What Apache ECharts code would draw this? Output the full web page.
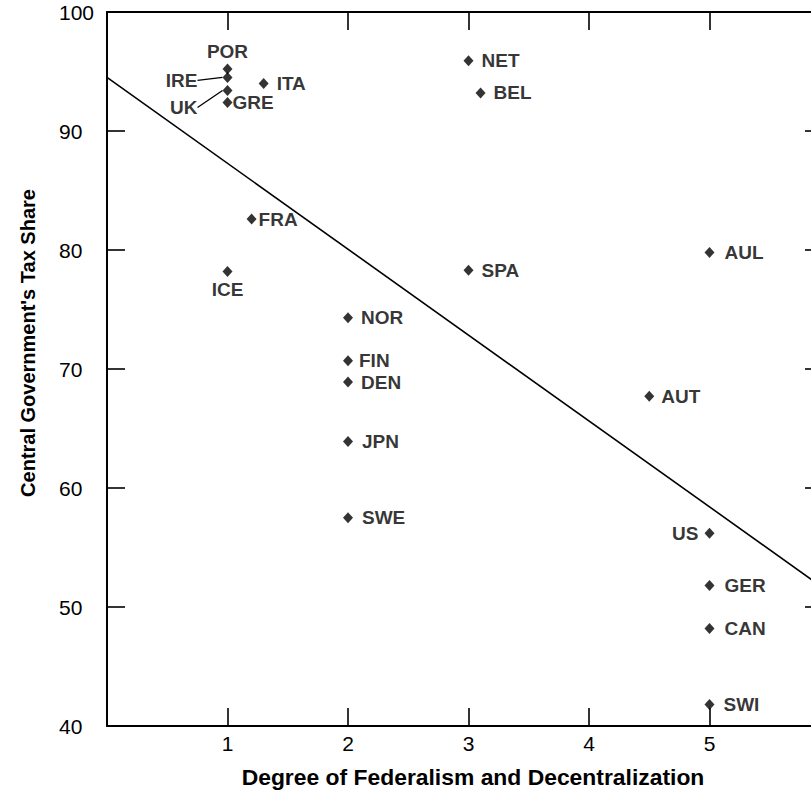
<!DOCTYPE html>
<html><head><meta charset="utf-8">
<script src="https://cdn.jsdelivr.net/npm/echarts@6/dist/echarts.min.js"></script>
<style>html,body{margin:0;padding:0;background:#fff}#c{width:811px;height:791px}</style>
</head><body><div id="c"></div>
<script>
// ---- data ----
const countries  = ['POR','IRE','UK','GRE','ITA','NET','BEL','FRA','ICE','NOR','FIN','DEN','JPN','SWE','SPA','AUL','AUT','US','GER','CAN','SWI'];
const federalism = [1, 1, 1, 1, 1.3, 3, 3.1, 1.2, 1, 2, 2, 2, 2, 2, 3, 5, 4.5, 5, 5, 5, 5];
const taxShare   = [95.2, 94.5, 93.4, 92.4, 94.0, 95.9, 93.2, 82.6, 78.2, 74.3, 70.7, 68.9, 63.9, 57.5, 78.3, 79.8, 67.7, 56.2, 51.8, 48.2, 41.8];
const fitX = [0, 6];
const fitY = [94.5, 51.2];
const xTickLabels = [1, 2, 3, 4, 5];
const yTickLabels = [40, 50, 60, 70, 80, 90, 100];
const xTitle = 'Degree of Federalism and Decentralization';
const yTitle = "Central Government's Tax Share";

// ---- label placement (style only) ----
const labelPlace = {
  POR: {position: 'top', distance: 3},
  IRE: {position: 'left', distance: 5, dx: -20, dy: 3, leader: true},
  UK:  {position: 'left', distance: 5, dx: -20, dy: 17, leader: true},
  GRE: {position: 'right', distance: 0, offset: [0, 16]},
  ITA: {position: 'right', distance: 8, offset: [0, 1]},
  NET: {position: 'right', distance: 8},
  BEL: {position: 'right', distance: 8},
  FRA: {position: 'right', distance: 2, offset: [0, 14]},
  ICE: {position: 'bottom', distance: 3},
  NOR: {position: 'right', distance: 8},
  FIN: {position: 'right', distance: 6, offset: [0, -3]},
  DEN: {position: 'right', distance: 8, offset: [0, 6]},
  JPN: {position: 'right', distance: 9, offset: [0, 2]},
  SWE: {position: 'right', distance: 9, offset: [0, 2]},
  SPA: {position: 'right', distance: 8},
  AUL: {position: 'right', distance: 10},
  AUT: {position: 'right', distance: 7, offset: [0, 1]},
  US:  {position: 'left', distance: 6},
  GER: {position: 'right', distance: 10},
  CAN: {position: 'right', distance: 10},
  SWI: {position: 'right', distance: 9}
};

const FONT = '"Liberation Sans", Arial, Helvetica, sans-serif';

const scatterData = countries.map((name, i) => {
  const p = labelPlace[name] || {position: 'right', distance: 8};
  const item = {
    name: name,
    value: [federalism[i], taxShare[i]],
    label: {position: p.position, distance: p.distance, offset: p.offset || [0, 0]}
  };
  if (p.leader) item.labelLine = {show: true, lineStyle: {color: '#000', width: 1.3}};
  return item;
});

const chart = echarts.init(document.getElementById('c'), null, {renderer: 'svg'});

const axisLineStyle = {show: true, onZero: false, lineStyle: {color: '#000', width: 2}};
const tickStyle = {show: true, inside: true, length: 18, lineStyle: {color: '#000', width: 1.6}};
const rightTickStyle = {show: true, inside: true, length: 25, lineStyle: {color: '#000', width: 1.6}};

chart.setOption({
  backgroundColor: '#fff',
  animation: false,
  grid: {left: 107, right: -19, top: 12, bottom: 65, containLabel: false, outerBoundsMode: 'none'},
  xAxis: [
    {
      type: 'value', min: 0, max: 6, interval: 1, position: 'bottom',
      axisLine: axisLineStyle, axisTick: tickStyle, splitLine: {show: false},
      axisLabel: {
        fontSize: 21, color: '#000', fontFamily: FONT, margin: 7,
        formatter: v => xTickLabels.includes(v) ? String(v) : ''
      }
    },
    {
      type: 'value', min: 0, max: 6, interval: 1, position: 'top',
      axisLine: axisLineStyle, axisTick: tickStyle, splitLine: {show: false},
      axisLabel: {show: false}
    }
  ],
  yAxis: [
    {
      type: 'value', min: 40, max: 100, interval: 10, position: 'left',
      axisLine: axisLineStyle, axisTick: tickStyle, splitLine: {show: false},
      axisLabel: {
        fontSize: 21, color: '#000', fontFamily: FONT, margin: 48, align: 'left',
        formatter: v => yTickLabels.includes(v) ? String(v) : ''
      }
    },
    {
      type: 'value', min: 40, max: 100, interval: 10, position: 'right',
      axisLine: {show: false, onZero: false}, axisTick: rightTickStyle, splitLine: {show: false},
      axisLabel: {show: false}
    }
  ],
  graphic: [
    {
      type: 'text', x: 473, y: 778, scaleX: 1.04,
      style: {text: xTitle, font: 'bold 22px ' + FONT, fill: '#000', align: 'center', verticalAlign: 'middle'}
    },
    {
      type: 'text', x: 28, y: 343, rotation: Math.PI / 2,
      style: {text: yTitle, font: 'bold 20px ' + FONT, fill: '#000', align: 'center', verticalAlign: 'middle'}
    }
  ],
  series: [
    {
      type: 'line',
      data: fitX.map((x, i) => [x, fitY[i]]),
      symbol: 'none',
      lineStyle: {color: '#000', width: 1.6},
      silent: true,
      z: 2
    },
    {
      type: 'scatter',
      data: scatterData,
      symbol: 'diamond',
      symbolSize: [10, 11],
      itemStyle: {color: '#000'},
      label: {
        show: true,
        formatter: p => p.name,
        fontSize: 19, fontWeight: 'bold', color: '#000', fontFamily: FONT
      },
      labelLine: {show: false},
      labelLayout: function (params) {
        const p = labelPlace[countries[params.dataIndex]];
        if (p && (p.dx || p.dy)) return {dx: p.dx || 0, dy: p.dy || 0};
        return {};
      },
      z: 3
    }
  ]
});
</script>
</body></html>
